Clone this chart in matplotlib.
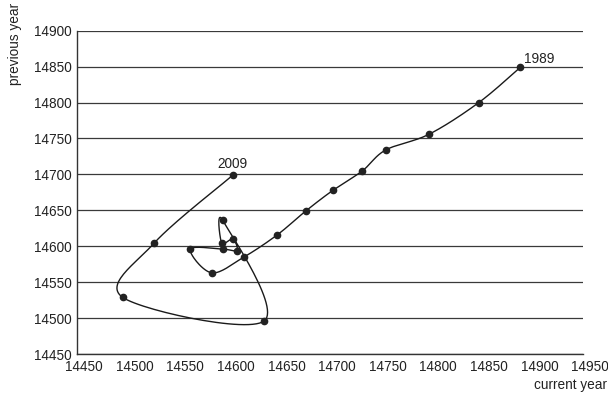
import numpy as np
import matplotlib
matplotlib.use("Agg")
import matplotlib.pyplot as plt
from matplotlib.transforms import ScaledTranslation

plt.rcParams['font.family'] = ['Liberation Sans', 'DejaVu Sans']

# values, 1989 -> 2009
years = list(range(1989, 2009)) + [2009]
current_year = [14888, 14847, 14798, 14755, 14732, 14703, 14676, 14648, 14615, 14583,
                14562, 14594, 14608, 14604, 14593, 14594, 14635, 14495, 14526, 14604]
previous_year = [14849, 14800, 14756, 14734, 14705, 14678, 14649, 14616, 14585, 14563,
                 14596, 14596, 14594, 14610, 14604, 14636, 14496, 14529, 14604, 14699]
first_label = "1989"
last_label = "2009"


def smooth(x, y, n=30):
    # Catmull-Rom curve through the points (like a spreadsheet "smoothed line")
    p = np.column_stack([x, y]).astype(float)
    p = np.vstack([p[0], p, p[-1]])
    out = []
    t = np.linspace(0, 1, n)[:, None]
    for i in range(1, len(p) - 2):
        p0, p1, p2, p3 = p[i - 1], p[i], p[i + 1], p[i + 2]
        c = 0.5 * ((2 * p1) + (-p0 + p2) * t + (2 * p0 - 5 * p1 + 4 * p2 - p3) * t ** 2
                   + (-p0 + 3 * p1 - 3 * p2 + p3) * t ** 3)
        out.append(c)
    c = np.vstack(out)
    return c[:, 0], c[:, 1]


fig = plt.figure(figsize=(6.08, 4.01), dpi=100)
ax = fig.add_axes([0.1266, 0.1172, 0.959 - 0.1266, 0.9234 - 0.1172])

sx, sy = smooth(current_year, previous_year)
ax.plot(sx, sy, color='#1a1a1a', lw=1.0, zorder=3)
ax.plot(current_year, previous_year, 'o', color='#222222', ms=4.5, zorder=4)

ax.text(current_year[0] + 4, previous_year[0] + 2, first_label, fontsize=9.8,
        ha='left', va='bottom', color='#222222')
ax.text(current_year[-1], previous_year[-1] + 6, last_label, fontsize=9.8,
        ha='center', va='bottom', color='#222222')

ax.set_xlim(14450, 14950)
ax.set_ylim(14450, 14900)
ax.set_xticks(np.arange(14450, 14951, 50))
ax.set_yticks(np.arange(14450, 14901, 50))
ax.yaxis.grid(True, color='#3a3a3a', lw=0.9)
ax.set_axisbelow(True)
ax.tick_params(length=0, labelsize=9.8, colors='#222222', pad=4)
for lab in ax.get_xticklabels():
    lab.set_transform(lab.get_transform() + ScaledTranslation(7 / 100, 0, fig.dpi_scale_trans))

for s in ['top', 'right']:
    ax.spines[s].set_visible(False)
for s in ['left', 'bottom']:
    ax.spines[s].set_color('#333333')
    ax.spines[s].set_linewidth(1.0)

fig.text(0.998, 1 - 385 / 401, 'current year', ha='right', va='center', fontsize=9.8, color='#222222')
fig.text(15 / 608, 1.0 - 3 / 401, 'previous year', ha='center', va='top', rotation=90,
         fontsize=9.8, color='#222222')

fig.savefig('out.png', dpi=100)
